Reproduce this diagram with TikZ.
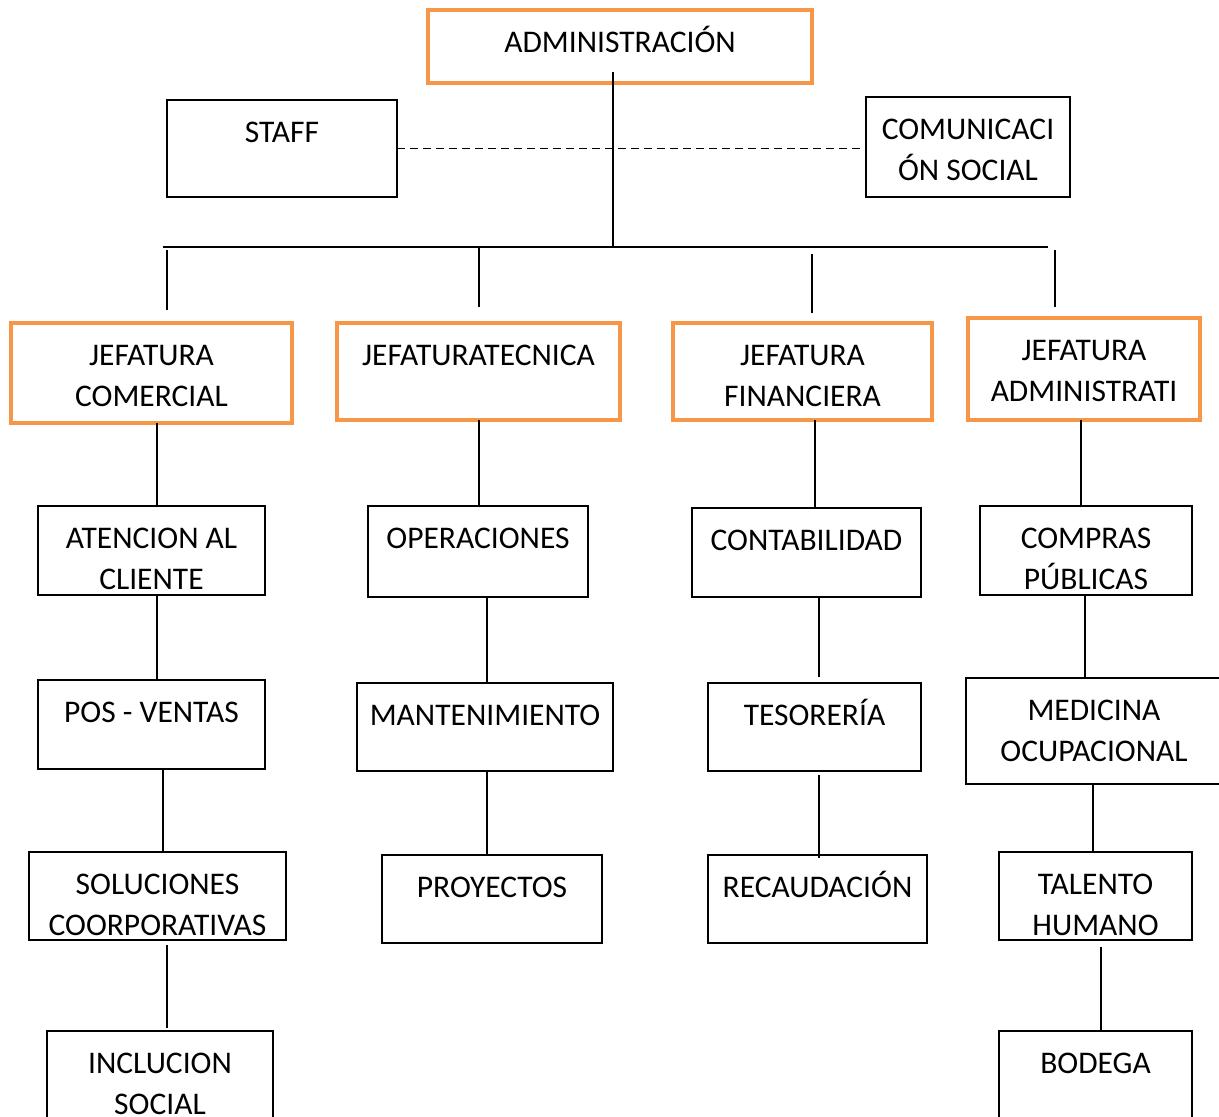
\documentclass[tikz,border=0pt]{standalone}
\usepackage{fontspec}
\setmainfont{Carlito}
\definecolor{jefe}{RGB}{247,150,70}
\tikzset{
    box/.style={draw, line width=1.4pt, anchor=north west, inner sep=0pt, outer sep=0pt},
    jefebox/.style={box, draw=jefe, line width=4pt},
    lbl/.style={font=\fontsize{31.5}{41}\selectfont, align=center, anchor=north, inner sep=0pt,
        draw=none, minimum width=0pt, minimum height=0pt},
    txt/.style={path picture={\node[lbl] at ([yshift=-14pt]path picture bounding box.north) {\rule{0pt}{28pt}#1};}},
    link/.style={line width=1.6pt}
}
\begin{document}
\begin{tikzpicture}[x=1pt,y=-1pt]
    \path[use as bounding box, clip] (0,0) rectangle (1219,1117);
    \node[jefebox, minimum width=384pt, minimum height=73pt, txt={ADMINISTRACIÓN}] (adm) at (428,10) {};
    \node[box, minimum width=230pt, minimum height=97pt, txt={STAFF}] (staff) at (167,100) {};
    \node[box, minimum width=204pt, minimum height=100pt, txt={COMUNICACI\\ÓN SOCIAL}] (comsoc) at (866,97) {};

    \node[jefebox, minimum width=281pt, minimum height=100pt, txt={JEFATURA\\COMERCIAL}] (jcom) at (11,323) {};
    \node[jefebox, minimum width=283pt, minimum height=97pt, txt={JEFATURATECNICA}] (jtec) at (337,323) {};
    \node[jefebox, minimum width=259pt, minimum height=97pt, txt={JEFATURA\\FINANCIERA}] (jfin) at (673,323) {};
    \node[jefebox, minimum width=232pt, minimum height=102pt, txt={JEFATURA\\ADMINISTRATI}] (jadm) at (968,318) {};

    \node[box, minimum width=227pt, minimum height=89pt, txt={ATENCION AL\\CLIENTE}] (aten) at (38,506) {};
    \node[box, minimum width=227pt, minimum height=89pt, txt={POS - VENTAS}] (pos) at (38,680) {};
    \node[box, minimum width=257pt, minimum height=88pt, txt={SOLUCIONES\\COORPORATIVAS}] (sol) at (29,852) {};
    \node[box, minimum width=226pt, minimum height=100pt, txt={INCLUCION\\SOCIAL}] (incl) at (47,1031) {};

    \node[box, minimum width=220pt, minimum height=91pt, txt={OPERACIONES}] (oper) at (368,506) {};
    \node[box, minimum width=256pt, minimum height=88pt, txt={MANTENIMIENTO}] (mant) at (357,683) {};
    \node[box, minimum width=220pt, minimum height=88pt, txt={PROYECTOS}] (proy) at (382,855) {};

    \node[box, minimum width=229pt, minimum height=89pt, txt={CONTABILIDAD}] (cont) at (692,508) {};
    \node[box, minimum width=213pt, minimum height=88pt, txt={TESORERÍA}] (teso) at (708,683) {};
    \node[box, minimum width=219pt, minimum height=88pt, txt={RECAUDACIÓN}] (reca) at (708,855) {};

    \node[box, minimum width=212pt, minimum height=89pt, txt={COMPRAS\\PÚBLICAS}] (comp) at (980,506) {};
    \node[box, minimum width=256pt, minimum height=106pt, txt={MEDICINA\\OCUPACIONAL}] (medi) at (966,678) {};
    \node[box, minimum width=193pt, minimum height=88pt, txt={TALENTO\\HUMANO}] (tale) at (999,852) {};
    \node[box, minimum width=193pt, minimum height=100pt, txt={BODEGA}] (bode) at (999,1031) {};

    \coordinate (busL) at (163,247);
    \coordinate (busM) at (613,247);
    \coordinate (busR) at (1048,247);
    \draw[link] ([xshift=-7pt,yshift=11pt]adm.south) -- (busM);
    \draw[link] (busL) -- (busR);
    \draw[link, dash pattern=on 8pt off 5pt] (staff.east) -- (staff.east -| comsoc.west);

    \draw[link] ([xshift=15.5pt,yshift=13pt]jcom.north) -- ++(0,-60);
    \draw[link] ([xshift=0.5pt,yshift=16pt]jtec.north) -- ++(0,-59);
    \draw[link] ([xshift=9.5pt,yshift=10pt]jfin.north) -- ++(0,-59);
    \draw[link] ([xshift=-29pt,yshift=11pt]jadm.north) -- ++(0,-57);

    \draw[link] ([xshift=5.5pt]jcom.south) -- ([xshift=5.5pt]aten.north);
    \draw[link] ([xshift=5.5pt]aten.south) -- ([xshift=5.5pt]pos.north);
    \draw[link] ([xshift=11.5pt]pos.south) -- ([xshift=5.5pt]sol.north);
    \draw[link] ([xshift=9.5pt,yshift=-5pt]sol.south) -- ([xshift=7pt,yshift=3pt]incl.north);

    \draw[link] ([xshift=0.5pt]jtec.south) -- ([xshift=1pt]oper.north);
    \draw[link] ([xshift=9pt]oper.south) -- ([xshift=2pt]mant.north);
    \draw[link] ([xshift=2pt]mant.south) -- ([xshift=-5pt]proy.north);

    \draw[link] ([xshift=12.5pt]jfin.south) -- ([xshift=8.5pt]cont.north);
    \draw[link] ([xshift=12.5pt]cont.south) -- ([xshift=4.5pt,yshift=6pt]teso.north);
    \draw[link] ([xshift=4.5pt,yshift=-4pt]teso.south) -- ([xshift=1.5pt,yshift=-3pt]reca.north);

    \draw[link] ([xshift=-3pt]jadm.south) -- ([xshift=-5pt]comp.north);
    \draw[link] ([xshift=-1pt]comp.south) -- ([xshift=-9pt]medi.north);
    \draw[link] ([xshift=-1pt]medi.south) -- ([xshift=-2.5pt]tale.north);
    \draw[link] ([xshift=5.5pt,yshift=-7pt]tale.south) -- ([xshift=5.5pt]bode.north);
\end{tikzpicture}
\end{document}
